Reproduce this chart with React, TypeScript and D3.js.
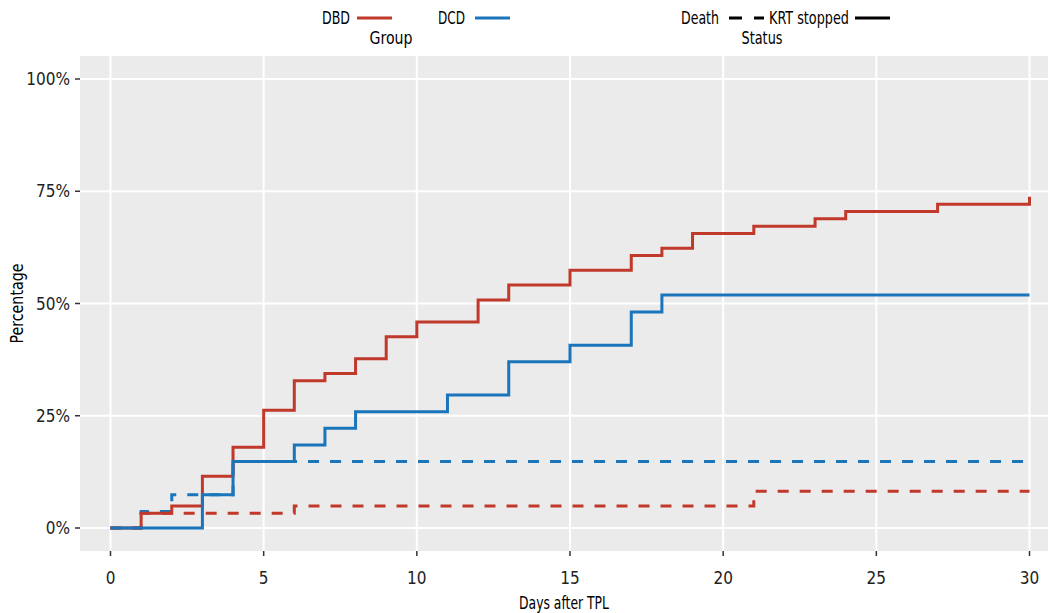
import { useEffect, useRef } from 'react';
import * as d3 from 'd3';

// cumulative incidence (%)
const dbdKrtDays = [0, 1, 2, 3, 4, 5, 6, 7, 8, 9, 10, 12, 13, 15, 17, 18, 19, 21, 23, 24, 27, 30];
const dbdKrtPct = [0, 3.3, 4.9, 11.5, 18.0, 26.2, 32.8, 34.4, 37.7, 42.6, 45.9, 50.8, 54.1, 57.4, 60.7, 62.3, 65.6, 67.2, 68.9, 70.5, 72.1, 73.8];
const dcdKrtDays = [0, 3, 4, 6, 7, 8, 11, 13, 15, 17, 18, 30];
const dcdKrtPct = [0, 7.4, 14.8, 18.5, 22.2, 25.9, 29.6, 37.0, 40.7, 48.1, 51.9, 51.9];
const dbdDeathDays = [0, 1, 6, 21, 30];
const dbdDeathPct = [0, 3.3, 4.9, 8.2, 8.2];
const dcdDeathDays = [0, 1, 2, 4, 30];
const dcdDeathPct = [0, 3.7, 7.4, 14.8, 14.8];

const xTicks = [0, 5, 10, 15, 20, 25, 30];
const yTicks = [0, 25, 50, 75, 100];

const RED = '#C0392B';
const BLUE = '#1A75BB';
const FONT = '"Liberation Sans Narrow", "DejaVu Sans Condensed", "Roboto Condensed", sans-serif';

const WIDTH = 1050;
const HEIGHT = 613;
const PANEL = { left: 80, right: 1048, top: 56, bottom: 551 };

export default function App() {
  const ref = useRef<SVGSVGElement | null>(null);

  useEffect(() => {
    if (!ref.current) return;
    const svg = d3.select(ref.current);
    svg.selectAll('*').remove();
    svg.style('font-family', FONT);

    const x = d3.scaleLinear().domain([0, 30]).range([110.5, 1029.5]);
    const y = d3.scaleLinear().domain([0, 100]).range([528, 79]);

    svg
      .append('rect')
      .attr('x', PANEL.left)
      .attr('y', PANEL.top)
      .attr('width', PANEL.right - PANEL.left)
      .attr('height', PANEL.bottom - PANEL.top)
      .attr('fill', '#EBEBEB');

    const grid = svg.append('g');
    grid
      .selectAll('line.v')
      .data(xTicks)
      .join('line')
      .attr('x1', d => x(d))
      .attr('x2', d => x(d))
      .attr('y1', PANEL.top)
      .attr('y2', PANEL.bottom)
      .attr('stroke', '#fff')
      .attr('stroke-width', 2);
    grid
      .selectAll('line.h')
      .data(yTicks)
      .join('line')
      .attr('x1', PANEL.left)
      .attr('x2', PANEL.right)
      .attr('y1', d => y(d))
      .attr('y2', d => y(d))
      .attr('stroke', '#fff')
      .attr('stroke-width', 2);

    const line = d3
      .line<[number, number]>()
      .x(d => x(d[0]))
      .y(d => y(d[1]))
      .curve(d3.curveStepAfter);

    const series = [
      { days: dbdDeathDays, pct: dbdDeathPct, color: RED, dash: '11,11' },
      { days: dcdDeathDays, pct: dcdDeathPct, color: BLUE, dash: '11,11' },
      { days: dbdKrtDays, pct: dbdKrtPct, color: RED, dash: null },
      { days: dcdKrtDays, pct: dcdKrtPct, color: BLUE, dash: null },
    ];

    series.forEach(s => {
      svg
        .append('path')
        .datum(s.days.map((d, i) => [d, s.pct[i]] as [number, number]))
        .attr('d', line)
        .attr('fill', 'none')
        .attr('stroke', s.color)
        .attr('stroke-width', 3)
        .attr('stroke-dasharray', s.dash);
    });

    // axes
    const ax = svg.append('g').attr('fill', '#222').style('font-size', '17px');
    xTicks.forEach(t => {
      ax.append('line')
        .attr('x1', x(t)).attr('x2', x(t))
        .attr('y1', PANEL.bottom).attr('y2', PANEL.bottom + 5)
        .attr('stroke', '#333').attr('stroke-width', 1.5);
      ax.append('text')
        .attr('x', x(t)).attr('y', 584)
        .attr('text-anchor', 'middle')
        .text(t);
    });
    yTicks.forEach(t => {
      ax.append('line')
        .attr('x1', PANEL.left - 5).attr('x2', PANEL.left)
        .attr('y1', y(t)).attr('y2', y(t))
        .attr('stroke', '#333').attr('stroke-width', 1.5);
      ax.append('text')
        .attr('x', PANEL.left - 10).attr('y', y(t))
        .attr('dy', '0.36em')
        .attr('text-anchor', 'end')
        .text(`${t}%`);
    });

    // text squeezed to the reference widths (condensed face)
    const label = (g: d3.Selection<any, unknown, null, undefined>, tx: number, ty: number, s: string, w: number, anchor = 'start') =>
      g.append('text')
        .attr('x', tx).attr('y', ty)
        .attr('dy', '0.36em')
        .attr('text-anchor', anchor)
        .attr('textLength', w)
        .attr('lengthAdjust', 'spacingAndGlyphs')
        .style('font-size', '18px')
        .text(s);

    label(svg, (PANEL.left + PANEL.right) / 2, 603, 'Days after TPL', 90, 'middle');
    const yt = svg.append('g').attr('transform', `translate(17,${(PANEL.top + PANEL.bottom) / 2}) rotate(-90)`);
    label(yt, 0, 0, 'Percentage', 80, 'middle');

    // legends
    const leg = svg.append('g');
    const rowY = 18;
    const item = (tx: number, s: string, w: number, x1: number, color: string, dash: string | null) => {
      label(leg, tx, rowY, s, w);
      leg.append('line')
        .attr('x1', x1).attr('x2', x1 + 35)
        .attr('y1', rowY).attr('y2', rowY)
        .attr('stroke', color).attr('stroke-width', 3)
        .attr('stroke-dasharray', dash);
    };
    item(322, 'DBD', 28, 357, RED, null);
    item(438, 'DCD', 27, 475, BLUE, null);
    item(681, 'Death', 38, 729, '#000', '13,12');
    item(769, 'KRT stopped', 80, 855, '#000', null);
    label(leg, 391, 38, 'Group', 43, 'middle');
    label(leg, 762, 38, 'Status', 41, 'middle');
  }, []);

  return (
    <>
      <style>{'body{margin:0}'}</style>
      <svg ref={ref} width={WIDTH} height={HEIGHT} style={{ display: 'block', background: '#fff' }} />
    </>
  );
}
